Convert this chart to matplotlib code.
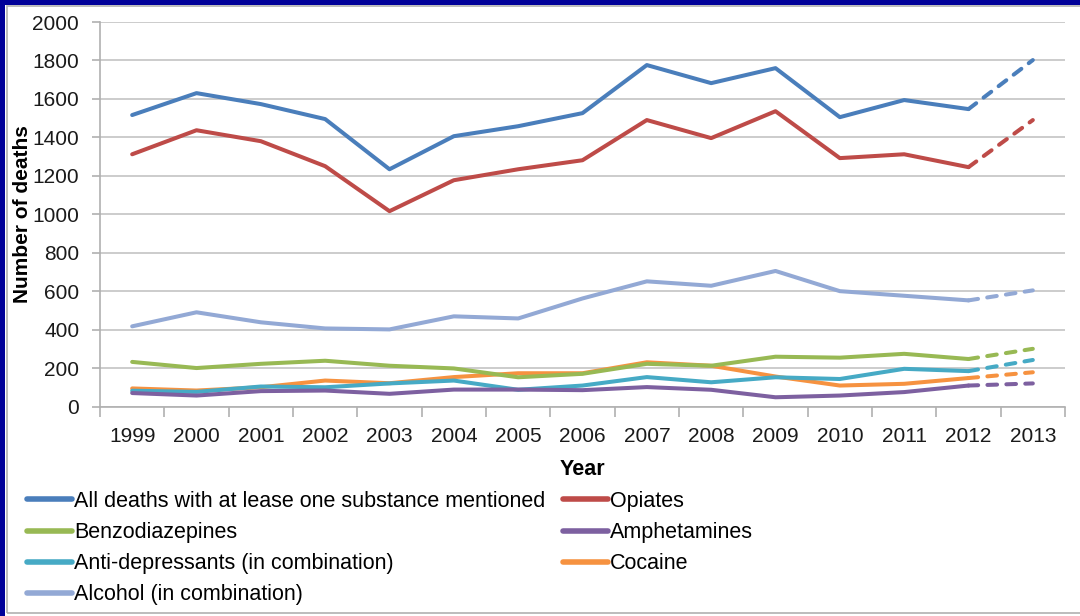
import matplotlib.pyplot as plt
from matplotlib.patches import Rectangle
from matplotlib.lines import Line2D

plt.rcParams['font.family'] = ['Liberation Sans', 'DejaVu Sans']

years = ['1999', '2000', '2001', '2002', '2003', '2004', '2005', '2006',
         '2007', '2008', '2009', '2010', '2011', '2012', '2013']

all_deaths = [1516, 1630, 1573, 1495, 1234, 1406, 1458, 1526, 1776, 1682, 1760, 1505, 1594, 1547, 1802]
opiates = [1312, 1437, 1380, 1250, 1016, 1177, 1234, 1281, 1490, 1396, 1536, 1292, 1312, 1245, 1490]
benzos = [232, 200, 222, 238, 212, 198, 152, 170, 222, 212, 259, 254, 274, 247, 300]
amphetamines = [70, 57, 80, 83, 66, 88, 88, 85, 101, 87, 48, 57, 75, 109, 120]
antidepressants = [82, 76, 104, 100, 120, 135, 87, 109, 153, 126, 152, 143, 196, 184, 242]
cocaine = [94, 83, 100, 135, 121, 153, 173, 173, 230, 212, 156, 109, 118, 148, 178]
alcohol = [417, 490, 438, 406, 401, 469, 458, 562, 651, 628, 705, 600, 576, 552, 604]

names = ['All deaths with at lease one substance mentioned', 'Opiates',
         'Benzodiazepines', 'Amphetamines',
         'Anti-depressants (in combination)', 'Cocaine',
         'Alcohol (in combination)']
series = [all_deaths, opiates, benzos, amphetamines, antidepressants, cocaine, alcohol]
colors = ['#4A7EBB', '#BE4B48', '#98B954', '#7D60A0', '#46AAC5', '#F69240', '#93A9D5']

fig = plt.figure(figsize=(10.8, 6.16), dpi=100)

# slide frame: navy strip on the left and top, grey box inside
fig.patches.append(Rectangle((0, 0), 5 / 1080, 1, transform=fig.transFigure,
                             facecolor='#000099', edgecolor='none', zorder=0))
fig.patches.append(Rectangle((0, 1 - 5 / 616), 1, 5 / 616, transform=fig.transFigure,
                             facecolor='#000099', edgecolor='none', zorder=0))
fig.patches.append(Rectangle((6.5 / 1080, 3 / 616), 1.1, 607 / 616, transform=fig.transFigure,
                             facecolor='none', edgecolor='#b0b0b0', lw=1.2, zorder=0))

ax = fig.add_axes([100 / 1080, (616 - 406.5) / 616, 965 / 1080, 384.5 / 616])

x = list(range(len(years)))
lw = 2.9
for i in [6, 5, 4, 3, 2, 1, 0]:
    vals = series[i]
    # recorded years solid, last year's estimate dashed
    ax.plot(x[:-1], vals[:-1], color=colors[i], lw=lw, solid_capstyle='round',
            solid_joinstyle='round', zorder=3 + (6 - i))
    ax.plot(x[-2:], vals[-2:], color=colors[i], lw=lw, linestyle=(0, (2.4, 2.3)),
            dash_capstyle='round', zorder=3 + (6 - i))

ax.set_xlim(-0.5, len(years) - 0.5)
ax.set_ylim(0, 2000)
ax.set_yticks(range(0, 2001, 200))
ax.set_xticks(x)
ax.set_xticklabels(years)
ax.set_xticks([k - 0.5 for k in range(len(years) + 1)], minor=True)
ax.tick_params(axis='x', which='major', length=0, pad=15, labelsize=15, labelcolor='#1a1a1a')
ax.tick_params(axis='x', which='minor', length=7, color='#b0b0b0', width=1.2)
ax.tick_params(axis='y', length=6, color='#b0b0b0', width=1.2, labelsize=15,
               labelcolor='#1a1a1a', pad=9)

ax.grid(axis='y', color='#c4c4c4', lw=1.2)
ax.set_axisbelow(True)
for side in ['top', 'right']:
    ax.spines[side].set_visible(False)
for side in ['left', 'bottom']:
    ax.spines[side].set_color('#b0b0b0')
    ax.spines[side].set_linewidth(1.2)

ax.set_xlabel('Year', fontsize=15.5, fontweight='bold', labelpad=9)
ax.set_ylabel('Number of deaths', fontsize=15, fontweight='bold')
ax.yaxis.set_label_coords(-68 / 965, 0.5)

handles = [Line2D([], [], color=c, lw=4, solid_capstyle='round') for c in colors]
leg_idx = [0, 2, 4, 6, 1, 3, 5]
fig.legend([handles[i] for i in leg_idx], [names[i] for i in leg_idx],
           loc='upper left', bbox_to_anchor=(27 / 1080, 1 - 491 / 616), ncol=2,
           frameon=False, fontsize=15.5, handlelength=2.1, handletextpad=0.1,
           labelspacing=0.47, columnspacing=0.8, borderpad=0, borderaxespad=0)

fig.savefig('out.png', dpi=100)
